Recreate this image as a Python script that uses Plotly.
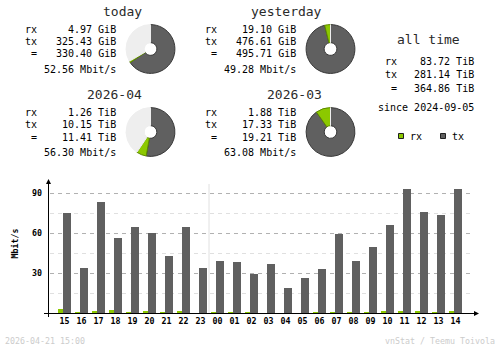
import plotly.graph_objects as go

# ---- summary values ----
periods = ["today", "yesterday", "2026-04", "2026-03"]
period_rx = [4.97, 19.10, 1.26, 1.88]
period_tx = [325.43, 476.61, 10.15, 17.33]
period_total = [330.40, 495.71, 11.41, 19.21]
period_unit = ["GiB", "GiB", "TiB", "TiB"]
period_rate = [52.56, 49.28, 56.30, 63.08]
# each donut is scaled against the larger of its own total and this period's total
period_compare = [1, 1, 3, 3]

alltime_rx = 83.72
alltime_tx = 281.14
alltime_total = 364.86
alltime_unit = "TiB"
alltime_since = "2024-09-05"

# ---- hourly traffic (Mbit/s) ----
hours = ["15", "16", "17", "18", "19", "20", "21", "22", "23", "00", "01", "02",
         "03", "04", "05", "06", "07", "08", "09", "10", "11", "12", "13", "14"]
hour_rx = [3.3, 1.0, 1.5, 2.2, 1.0, 1.5, 1.0, 1.5, 0.2, 1.0, 1.0, 1.0,
           0.2, 0.2, 0.2, 1.0, 1.0, 1.0, 1.0, 2.0, 2.0, 1.8, 1.0, 1.8]
hour_tx = [75.4, 34.0, 83.5, 56.5, 64.7, 60.2, 43.0, 64.7, 34.0, 39.2, 38.5, 29.5,
           37.0, 19.0, 26.5, 33.2, 59.5, 39.2, 49.7, 66.2, 93.2, 76.0, 73.7, 93.2]
y_ticks = [30, 60, 90]
y_minor = [15, 45, 75]

stamp = "2026-04-21 15:00"
credit = "vnStat / Teemu Toivola"

RX = "#8cc800"
RX_EDGE = "#5e8a00"
TX = "#606060"
TX_EDGE = "#383838"
EMPTY = "#eeeeee"
FONT = "DejaVu Sans Mono"
SMALL = 8.3

W, H = 500, 348


def px(x):
    return x / W


def py(y):
    return 1 - y / H


fig = go.Figure()
annotations = []
shapes = []


def text(x, y, s, size=10, anchor="left", color="#000000", bold=False, angle=0):
    annotations.append(dict(
        x=px(x), y=py(y), xref="paper", yref="paper", text=s, showarrow=False,
        xanchor=anchor, yanchor="middle", borderpad=0, borderwidth=0,
        textangle=angle,
        font=dict(family=FONT, size=size, color=color,
                  weight="bold" if bold else "normal"),
    ))


# ---- period blocks with donuts ----
block_offsets = [(0, 0), (180, 0), (0, 83), (180, 83)]
for i, name in enumerate(periods):
    ox, oy = block_offsets[i]
    unit = period_unit[i]
    text(142 + ox, 11 + oy, name, size=13, anchor="right", color="#2a2a2a")
    text(25 + ox, 29 + oy, "rx")
    text(25 + ox, 41 + oy, "tx")
    text(25 + ox, 54 + oy, "\u00a0=")
    text(115.5 + ox, 29 + oy, f"{period_rx[i]:.2f} {unit}", anchor="right")
    text(115.5 + ox, 41 + oy, f"{period_tx[i]:.2f} {unit}", anchor="right")
    text(115.5 + ox, 54 + oy, f"{period_total[i]:.2f} {unit}", anchor="right")
    text(115.5 + ox, 69 + oy, f"{period_rate[i]:.2f} Mbit/s", anchor="right")

    full = max(period_total[i], period_total[period_compare[i]])
    rest = full - period_total[i]
    cx, cy, r = 150.5 + ox, 49 + oy, 24.4
    fig.add_trace(go.Pie(
        values=[period_tx[i], period_rx[i], rest],
        sort=False, direction="clockwise", rotation=0, hole=0.26,
        textinfo="none", hoverinfo="skip", showlegend=False,
        marker=dict(colors=[TX, RX, EMPTY],
                    line=dict(color=[TX_EDGE, RX_EDGE, EMPTY], width=1)),
        domain=dict(x=[px(cx - r), px(cx + r)], y=[py(cy + r), py(cy - r)]),
    ))

# ---- all time block ----
text(428.7, 40, "all time", size=13, anchor="center", color="#2a2a2a")
text(384.7, 62, "rx")
text(384.7, 74.5, "tx")
text(384.7, 88, "\u00a0=")
text(474, 62, f"{alltime_rx:.2f} {alltime_unit}", anchor="right")
text(474, 74.5, f"{alltime_tx:.2f} {alltime_unit}", anchor="right")
text(474, 88, f"{alltime_total:.2f} {alltime_unit}", anchor="right")
text(474, 108, f"since {alltime_since}", anchor="right")

# legend swatches
for x0, fill, label in [(398.5, RX, "rx"), (440.5, TX, "tx")]:
    shapes.append(dict(type="rect", xref="paper", yref="paper",
                       x0=px(x0), x1=px(x0 + 5), y0=py(138.5), y1=py(133.5),
                       fillcolor=fill, line=dict(color="#202020", width=1)))
    text(x0 + 11, 136, label)

# ---- hourly bars ----
pos = list(range(len(hours)))
fig.add_trace(go.Bar(x=pos, y=hour_rx, offset=-0.382, width=0.294,
                     marker=dict(color=RX, line=dict(width=0)),
                     hoverinfo="skip", showlegend=False, xaxis="x", yaxis="y"))
fig.add_trace(go.Bar(x=pos, y=hour_tx, offset=-0.088, width=0.47,
                     marker=dict(color=TX, line=dict(width=0)),
                     hoverinfo="skip", showlegend=False, xaxis="x", yaxis="y"))

# horizontal guide lines
for v in y_minor:
    shapes.append(dict(type="line", xref="paper", yref="y", x0=px(50), x1=px(473),
                       y0=v, y1=v, layer="below",
                       line=dict(color="#e0e0e0", width=1, dash="4px,4px")))
for v in y_ticks:
    shapes.append(dict(type="line", xref="paper", yref="y", x0=px(50), x1=px(473),
                       y0=v, y1=v, layer="below",
                       line=dict(color="#b0b0b0", width=1, dash="4px,4px")))

# day boundary
mid = hours.index("00") - 0.5
shapes.append(dict(type="line", xref="x", yref="paper", x0=mid, x1=mid,
                   y0=py(313), y1=py(184), layer="below",
                   line=dict(color="#e0e0e0", width=1)))

# axes with arrow heads
shapes.append(dict(type="line", xref="paper", yref="paper", x0=px(48.5), x1=px(48.5),
                   y0=py(317), y1=py(181), line=dict(color="#000000", width=1)))
shapes.append(dict(type="line", xref="paper", yref="paper", x0=px(44), x1=px(476),
                   y0=py(313.5), y1=py(313.5), line=dict(color="#000000", width=1)))
shapes.append(dict(type="path", xref="paper", yref="paper",
                   path=f"M {px(48.5)} {py(179)} L {px(46)} {py(184)} L {px(51)} {py(184)} Z",
                   fillcolor="#000000", line=dict(color="#000000", width=0)))
shapes.append(dict(type="path", xref="paper", yref="paper",
                   path=f"M {px(479)} {py(313.5)} L {px(474)} {py(311)} L {px(474)} {py(316)} Z",
                   fillcolor="#000000", line=dict(color="#000000", width=0)))

text(14.5, 244, "Mbit/s", size=SMALL, anchor="center", bold=True, angle=-90)

# footer
text(5, 340.5, stamp, size=SMALL, color="#cccccc")
text(495, 340.5, credit, size=SMALL, anchor="right", color="#cccccc")

x_lo = (44 - 64.5) / 17
x_hi = (478 - 64.5) / 17
fig.update_layout(
    width=W, height=H,
    margin=dict(l=0, r=0, t=0, b=0, pad=0),
    paper_bgcolor="#ffffff", plot_bgcolor="rgba(0,0,0,0)",
    barmode="overlay", bargap=0,
    annotations=annotations, shapes=shapes,
    xaxis=dict(domain=[px(44), px(478)], range=[x_lo, x_hi], tickvals=pos,
               ticktext=hours, showgrid=False, zeroline=False, showline=False,
               ticks="", fixedrange=True, ticklabelstandoff=1,
               tickfont=dict(family=FONT, size=SMALL, color="#000000", weight="bold")),
    yaxis=dict(domain=[py(313.5), py(180.2)], range=[0, 100], tickvals=y_ticks,
               showgrid=False, zeroline=False, showline=False, ticks="",
               fixedrange=True, ticklabelstandoff=1,
               tickfont=dict(family=FONT, size=SMALL, color="#000000", weight="bold")),
)

fig.write_html("out.html", config={"displayModeBar": False})
